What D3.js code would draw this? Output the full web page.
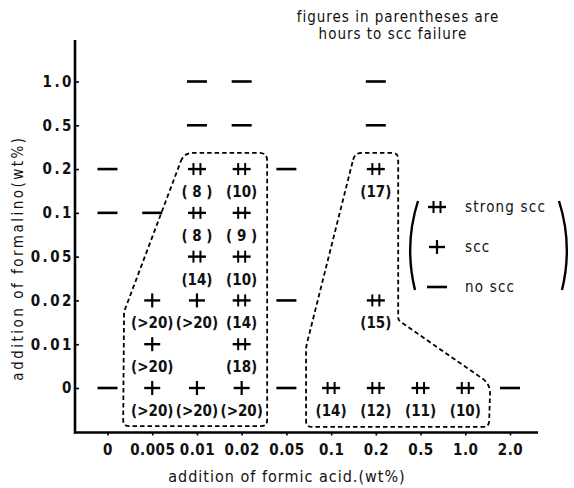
<!DOCTYPE html>
<html>
<head>
<meta charset="utf-8">
<script src="https://cdn.jsdelivr.net/npm/d3@7"></script>
<style>
  html, body { margin: 0; padding: 0; background: #fff; }
  svg { display: block; }
  text { fill: #111; }
</style>
</head>
<body>
<svg id="chart" width="574" height="488"></svg>
<script>
// ---------- data ----------
const xCategories = ["0", "0.005", "0.01", "0.02", "0.05", "0.1", "0.2", "0.5", "1.0", "2.0"];
const yCategories = ["0", "0.01", "0.02", "0.05", "0.1", "0.2", "0.5", "1.0"];

// each observation: formic acid (x), formalin (y), result, hours to scc failure
const obsX     = ["0.01","0.02","0.2",  "0.01","0.02","0.2",
                  "0","0.01","0.02","0.05","0.2",
                  "0","0.005","0.01","0.02",
                  "0.01","0.02",
                  "0.005","0.01","0.02","0.05","0.2",
                  "0.005","0.02",
                  "0","0.005","0.01","0.02","0.05","0.1","0.2","0.5","1.0","2.0"];
const obsY     = ["1.0","1.0","1.0",  "0.5","0.5","0.5",
                  "0.2","0.2","0.2","0.2","0.2",
                  "0.1","0.1","0.1","0.1",
                  "0.05","0.05",
                  "0.02","0.02","0.02","0.02","0.02",
                  "0.01","0.01",
                  "0","0","0","0","0","0","0","0","0","0"];
const obsType  = ["none","none","none", "none","none","none",
                  "none","strong","strong","none","strong",
                  "none","none","strong","strong",
                  "strong","strong",
                  "scc","scc","strong","none","strong",
                  "scc","strong",
                  "none","scc","scc","scc","none","strong","strong","strong","strong","none"];
const obsHours = ["","","", "","","",
                  "","( 8 )","(10)","","(17)",
                  "","","( 8 )","( 9 )",
                  "(14)","(10)",
                  "(>20)","(>20)","(14)","","(15)",
                  "(>20)","(18)",
                  "","(>20)","(>20)","(>20)","","(14)","(12)","(11)","(10)",""];

// dashed outlines of the scc regions, in category-index units [xIndex, yIndex, cornerRadius]
const regionLeft  = [[1.71, 5.37, 9], [3.57, 5.37, 8], [3.57, -0.87, 6], [0.35, -0.87, 6], [0.37, 1.74, 3]];
const regionRight = [[5.53, 5.37, 7], [6.50, 5.37, 6], [6.50, 1.55, 3], [8.56, 0.09, 10], [8.53, -0.89, 6], [4.44, -0.89, 6], [4.44, 0.94, 3]];

const legendTypes  = ["strong", "scc", "none"];
const legendLabels = ["strong scc", "scc", "no scc"];
const noteLines    = ["figures in parentheses are", "hours to scc failure"];
const xTitle = "addition of formic acid.(wt%)";
const yTitle = "addition of formalino(wt%)";

// ---------- drawing ----------
const svg = d3.select("#chart");
const FONT = "'DejaVu Sans Condensed', 'Liberation Sans Narrow', 'DejaVu Sans', sans-serif";

const x = d3.scalePoint().domain(xCategories).range([107.5, 510]);
const y = d3.scalePoint().domain(yCategories).range([388, 81.5]);
const xi = d3.scaleLinear().domain([0, xCategories.length - 1]).range([107.5, 510]);
const yi = d3.scaleLinear().domain([0, yCategories.length - 1]).range([388, 81.5]);

// axes lines
svg.append("line").attr("x1", 75).attr("x2", 75).attr("y1", 40).attr("y2", 433.5)
  .attr("stroke", "#000").attr("stroke-width", 2.6);
svg.append("line").attr("x1", 74).attr("x2", 538).attr("y1", 432.5).attr("y2", 432.5)
  .attr("stroke", "#000").attr("stroke-width", 2.6);

const xAxis = svg.append("g").attr("transform", "translate(0,432.5)")
  .call(d3.axisBottom(x).tickSize(3).tickPadding(9));
xAxis.select(".domain").remove();
xAxis.selectAll(".tick line").attr("stroke", "#000").attr("stroke-width", 1.6);
xAxis.selectAll(".tick text").attr("font-family", FONT).attr("font-size", 15)
  .attr("font-weight", "bold").attr("fill", "#111").attr("letter-spacing", 0.5);

const yAxis = svg.append("g").attr("transform", "translate(75,0)")
  .call(d3.axisLeft(y).tickSize(-4).tickPadding(1));
yAxis.select(".domain").remove();
yAxis.selectAll(".tick line").attr("stroke", "#000").attr("stroke-width", 1.6);
yAxis.selectAll(".tick text").attr("font-family", FONT).attr("font-size", 15)
  .attr("font-weight", "bold").attr("fill", "#111").attr("letter-spacing", 2.5);

// symbol drawer
function drawSymbol(g, type) {
  const line = (x1, y1, x2, y2, w) => g.append("line")
    .attr("x1", x1).attr("y1", y1).attr("x2", x2).attr("y2", y2)
    .attr("stroke", "#000").attr("stroke-width", w);
  if (type === "none") {
    line(-10, 0, 10, 0, 2.6);
  } else if (type === "scc") {
    line(-8, 0, 8, 0, 2.4);
    line(0, -7, 0, 7, 2.2);
  } else {
    line(-9, 0, 9, 0, 2.4);
    line(-3.5, -6, -3.5, 6, 2);
    line(3.5, -6, 3.5, 6, 2);
  }
}

const obs = obsX.map((v, i) => ({ x: v, y: obsY[i], type: obsType[i], hours: obsHours[i] }));
const pts = svg.append("g").selectAll("g").data(obs).join("g")
  .attr("transform", d => `translate(${x(d.x)},${y(d.y)})`);
pts.each(function (d) { drawSymbol(d3.select(this), d.type); });
pts.filter(d => d.hours).append("text")
  .attr("y", 23).attr("text-anchor", "middle").attr("dominant-baseline", "central")
  .attr("font-family", FONT).attr("font-size", 15).attr("font-weight", "bold")
  .text(d => d.hours);

// rounded polygon
function roundedPath(vertices) {
  const P = vertices.map(v => [xi(v[0]), yi(v[1]), v[2]]);
  const n = P.length;
  let d = "";
  for (let i = 0; i < n; i++) {
    const p0 = P[(i - 1 + n) % n], p1 = P[i], p2 = P[(i + 1) % n];
    const r = p1[2];
    const l1 = Math.hypot(p1[0] - p0[0], p1[1] - p0[1]);
    const l2 = Math.hypot(p2[0] - p1[0], p2[1] - p1[1]);
    const a = [p1[0] + (p0[0] - p1[0]) * r / l1, p1[1] + (p0[1] - p1[1]) * r / l1];
    const b = [p1[0] + (p2[0] - p1[0]) * r / l2, p1[1] + (p2[1] - p1[1]) * r / l2];
    d += (i === 0 ? "M" : "L") + a[0] + "," + a[1] + "Q" + p1[0] + "," + p1[1] + " " + b[0] + "," + b[1];
  }
  return d + "Z";
}
[regionLeft, regionRight].forEach(reg => {
  svg.append("path").attr("d", roundedPath(reg))
    .attr("fill", "none").attr("stroke", "#000").attr("stroke-width", 1.8)
    .attr("stroke-dasharray", "4.5,3");
});

// legend
const legend = svg.append("g");
legendTypes.forEach((t, i) => {
  const gy = 207 + i * 40;
  const g = legend.append("g").attr("transform", `translate(437,${gy})`);
  drawSymbol(g, t);
  legend.append("text").attr("x", 465).attr("y", gy).attr("dominant-baseline", "central")
    .attr("font-family", FONT).attr("font-size", 15).attr("letter-spacing", 1.2)
    .text(legendLabels[i]);
});
legend.append("path").attr("d", "M418,201 Q404,245 415,290")
  .attr("fill", "none").attr("stroke", "#000").attr("stroke-width", 2.4);
legend.append("path").attr("d", "M559,201 Q573,245 562,290")
  .attr("fill", "none").attr("stroke", "#000").attr("stroke-width", 2.4);

// note
svg.append("g").selectAll("text").data(noteLines).join("text")
  .attr("x", (d, i) => i === 0 ? 398 : 393).attr("y", (d, i) => 22 + i * 17)
  .attr("text-anchor", "middle").attr("font-family", FONT).attr("font-size", 15)
  .attr("letter-spacing", 1).text(d => d);

// axis titles
svg.append("text").attr("x", 287).attr("y", 482).attr("text-anchor", "middle")
  .attr("font-family", FONT).attr("font-size", 16).attr("letter-spacing", 1).text(xTitle);
svg.append("text").attr("transform", "translate(23,258) rotate(-90)").attr("text-anchor", "middle")
  .attr("font-family", FONT).attr("font-size", 15).attr("letter-spacing", 2.5).text(yTitle);
</script>
</body>
</html>
